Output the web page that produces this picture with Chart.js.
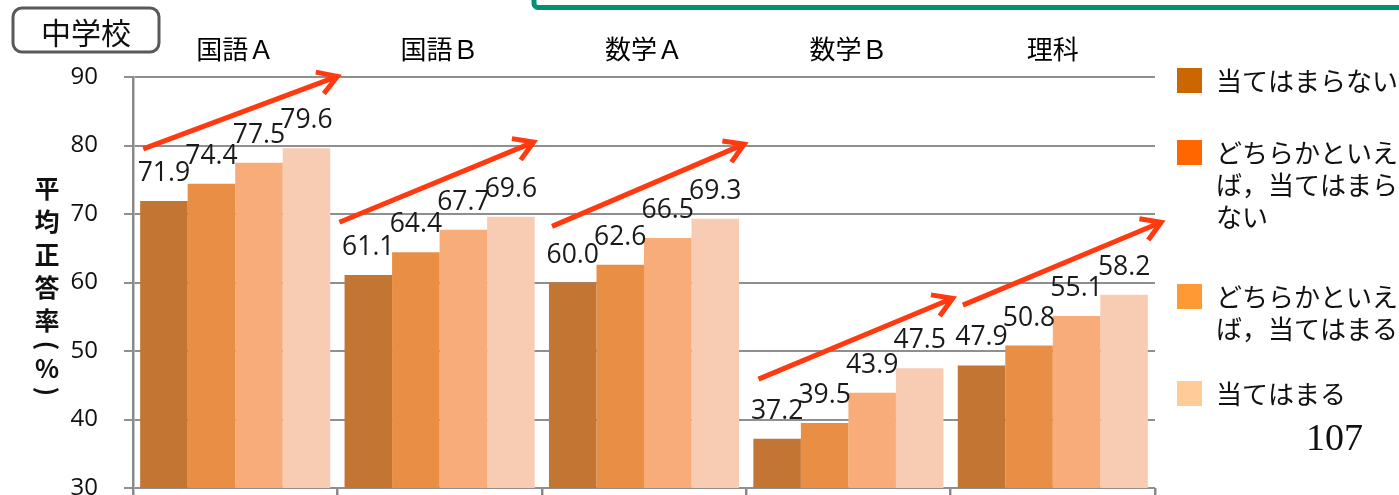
<!DOCTYPE html>
<html>
<head>
<meta charset="utf-8">
<script src="https://cdn.jsdelivr.net/npm/chart.js@4/dist/chart.umd.min.js"></script>
<style>
body{margin:0;background:#fff;}
canvas{display:block;}
</style>
</head>
<body>
<canvas id="canvas-score" width="1399" height="495"></canvas>
<script>
// data
var subjects = ['国語Ａ', '国語Ｂ', '数学Ａ', '数学Ｂ', '理科'];
var seriesNames = ['当てはまらない', 'どちらかといえば，当てはまらない', 'どちらかといえば，当てはまる', '当てはまる'];
var notApply    = [71.9, 61.1, 60.0, 37.2, 47.9];
var ratherNot   = [74.4, 64.4, 62.6, 39.5, 50.8];
var ratherApply = [77.5, 67.7, 66.5, 43.9, 55.1];
var apply       = [79.6, 69.6, 69.3, 47.5, 58.2];
var yMin = 30, yMax = 90, yStep = 10;
var yTitle = '平均正答率（%）';
var badge = '中学校';
var pageNo = '107';

// trend arrows, in category / value units
var arrowFrom = [[-0.45, 79.5], [0.51, 68.8], [1.55, 68.2], [2.56, 45.9], [3.56, 56.7]];
var arrowTo   = [[0.50, 90.1], [1.46, 80.5], [2.49, 80.2], [3.51, 57.7], [4.53, 68.8]];

var barColors = ['#c37634', '#e88e45', '#f7ac7a', '#f8cbb3'];
var legendColors = ['#cc6600', '#ff6600', '#ff9933', '#ffcc99'];
var legendTops = [68, 140, 284, 381];

var ScoreChart = {};
var cjk = '"Noto Sans CJK JP", sans-serif';
var num = '"Open Sans", sans-serif';

ScoreChart.drawArrow = function(ctx, x1, y1, x2, y2){
    var ang = Math.atan2(y2 - y1, x2 - x1);
    var len = 22;
    ctx.beginPath();
    ctx.moveTo(x1, y1);
    ctx.lineTo(x2, y2);
    ctx.moveTo(x2 - len * Math.cos(ang - 0.55), y2 - len * Math.sin(ang - 0.55));
    ctx.lineTo(x2, y2);
    ctx.lineTo(x2 - len * Math.cos(ang + 0.55), y2 - len * Math.sin(ang + 0.55));
    ctx.stroke();
};

ScoreChart.overlay = {
    id: 'overlay',
    afterDatasetsDraw: function(chart){
        var ctx = chart.ctx;
        var xs = chart.scales.x, ys = chart.scales.y;
        ctx.save();
        // value labels
        ctx.font = '26.5px ' + num;
        ctx.fillStyle = '#1a1a1a';
        ctx.textAlign = 'center';
        ctx.textBaseline = 'alphabetic';
        chart.data.datasets.forEach(function(ds, i){
            chart.getDatasetMeta(i).data.forEach(function(bar, j){
                ctx.fillText(ds.data[j].toFixed(1), bar.x, bar.y - 20);
            });
        });
        // arrows
        ctx.strokeStyle = '#ff3a10';
        ctx.lineWidth = 5;
        ctx.lineJoin = 'miter';
        for (var k = 0; k < arrowFrom.length; k++) {
            ScoreChart.drawArrow(ctx,
                xs.getPixelForValue(arrowFrom[k][0]), ys.getPixelForValue(arrowFrom[k][1]),
                xs.getPixelForValue(arrowTo[k][0]), ys.getPixelForValue(arrowTo[k][1]));
        }
        ctx.restore();
    },
    afterDraw: function(chart){
        var ctx = chart.ctx;
        ctx.save();
        // green frame at top
        ctx.strokeStyle = '#009373';
        ctx.lineWidth = 5;
        ctx.beginPath();
        ctx.roundRect(534, -30, 900, 37.5, 4);
        ctx.stroke();
        // badge
        ctx.strokeStyle = '#595959';
        ctx.lineWidth = 3;
        ctx.beginPath();
        ctx.roundRect(13, 8, 146, 44, 9);
        ctx.stroke();
        ctx.fillStyle = '#111';
        ctx.font = '30px ' + cjk;
        ctx.textAlign = 'center';
        ctx.textBaseline = 'middle';
        ctx.fillText(badge, 86, 33);
        // vertical y title
        ctx.font = 'bold 25px ' + cjk;
        var y = 188, prev = 0;
        for (var i = 0; i < yTitle.length; i++) {
            var c = yTitle[i];
            var h = (c === '（' || c === '）') ? 18 : (c === '%' ? 28 : 33);
            if (i > 0) y += prev / 2 + h / 2;
            prev = h;
            if (c === '（' || c === '）') {
                ctx.save();
                ctx.translate(47, y);
                ctx.rotate(Math.PI / 2);
                ctx.fillText(c === '（' ? '(' : ')', 0, 0);
                ctx.restore();
            } else {
                ctx.fillText(c, 47, y);
            }
        }
        // legend
        ctx.textAlign = 'left';
        ctx.font = '26px ' + cjk;
        seriesNames.forEach(function(name, i){
            var top = legendTops[i];
            ctx.fillStyle = legendColors[i];
            ctx.fillRect(1177, top, 25, 25);
            ctx.fillStyle = '#111';
            for (var p = 0, line = 0; p < name.length; p += 7, line++) {
                ctx.fillText(name.slice(p, p + 7), 1216, top + 13 + line * 32);
            }
        });
        // page number
        ctx.font = '38px "Liberation Serif", serif';
        ctx.textBaseline = 'alphabetic';
        ctx.fillText(pageNo, 1306, 450);
        ctx.restore();
    }
};

ScoreChart.create = function(){
    var values = [notApply, ratherNot, ratherApply, apply];
    var config = {
        type: 'bar',
        data: {
            labels: subjects,
            datasets: values.map(function(v, i){
                return {
                    label: seriesNames[i],
                    data: v,
                    backgroundColor: barColors[i],
                    borderWidth: 0,
                    categoryPercentage: 0.93,
                    barPercentage: 1.0
                };
            })
        },
        options: {
            responsive: false,
            animation: false,
            layout: { padding: { left: 0, right: 244, top: 0, bottom: 0 } },
            plugins: { legend: { display: false }, tooltip: { enabled: false } },
            scales: {
                x: {
                    type: 'category',
                    position: 'top',
                    offset: true,
                    grid: { display: false, drawTicks: false },
                    border: { display: false },
                    ticks: { color: '#000', padding: 12, maxRotation: 0, autoSkip: false,
                             font: { family: cjk, size: 26 } },
                    afterFit: function(s){ s.height = 77; }
                },
                x2: {
                    type: 'category',
                    position: 'bottom',
                    offset: true,
                    grid: { offset: true, drawOnChartArea: false, tickLength: 7, color: '#8a8a8a', lineWidth: 2.5 },
                    border: { display: false },
                    ticks: { display: false },
                    afterFit: function(s){ s.height = 7; }
                },
                y: {
                    min: yMin,
                    max: yMax,
                    ticks: { stepSize: yStep, color: '#111', padding: 26,
                             font: { family: num, size: 24 } },
                    grid: { color: '#8f8f8f', lineWidth: 2, tickLength: 9 },
                    border: { color: '#8a8a8a', width: 2.5 },
                    afterFit: function(s){
                        s.width = 133;
                        s.paddingTop = 0;
                        s.paddingBottom = 0;
                    }
                }
            }
        },
        plugins: [ScoreChart.overlay]
    };
    return new Chart(document.getElementById('canvas-score'), config);
};

ScoreChart.create();
</script>
</body>
</html>
